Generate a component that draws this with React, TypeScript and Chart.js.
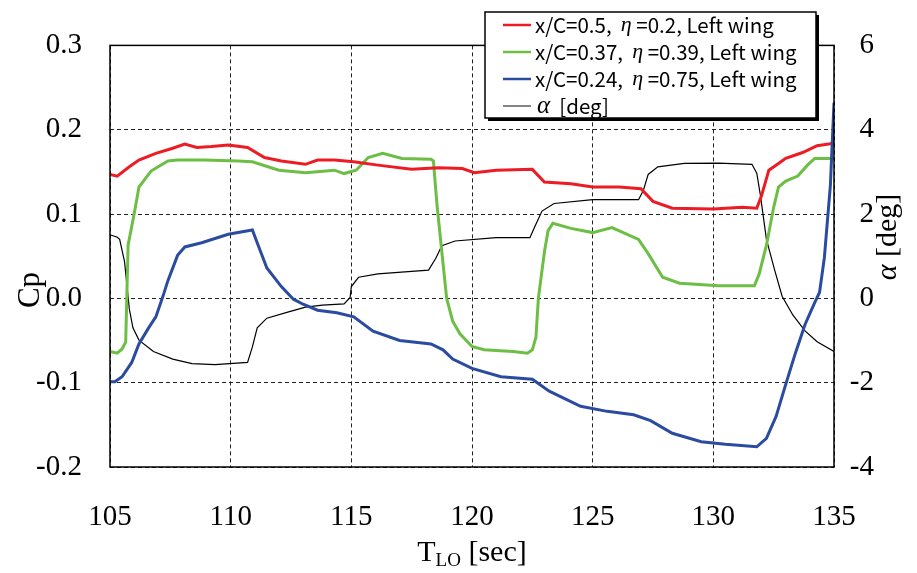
import React, { useEffect, useRef } from 'react';
import { Chart, registerables } from 'chart.js';
Chart.register(...registerables);

const W = 917;
const H = 573;

// Tick label settings (values)
const xMin = 105, xMax = 135, xStep = 5;
const cpMin = -0.2, cpMax = 0.3, cpStep = 0.1;
const aMin = -4, aMax = 6, aStep = 2;

const seriesLabels = [
  'x/C=0.5,',
  'x/C=0.37,',
  'x/C=0.24,',
];
const etaLabels = ['=0.2, Left wing', '=0.39, Left wing', '=0.75, Left wing'];

const redT = [105, 105.3, 105.8, 106.2, 106.9, 107.6, 108.1, 108.6, 109.2, 109.9, 110.7, 111.4, 112.1, 113.1, 113.6, 114.3, 115.1, 116.1, 117.5, 118.6, 119.6, 120.1, 121.0, 122.5, 123.0, 124.1, 125.0, 126.1, 127.0, 127.5, 128.3, 130.0, 131.2, 131.8, 132.0, 132.3, 132.7, 133.0, 133.7, 134.3, 135];
const redCp = [0.147, 0.145, 0.156, 0.164, 0.172, 0.178, 0.183, 0.179, 0.180, 0.182, 0.179, 0.167, 0.163, 0.159, 0.164, 0.164, 0.162, 0.158, 0.153, 0.155, 0.154, 0.149, 0.152, 0.153, 0.138, 0.136, 0.132, 0.132, 0.130, 0.115, 0.107, 0.106, 0.108, 0.107, 0.122, 0.152, 0.160, 0.166, 0.173, 0.181, 0.184];

const greenT = [105, 105.3, 105.5, 105.65, 105.75, 106.0, 106.2, 106.7, 107.4, 107.8, 108.9, 110.3, 110.9, 112.0, 113.1, 114.3, 114.7, 115.2, 115.7, 116.3, 117.1, 118.3, 118.4, 118.55, 118.75, 118.95, 119.2, 119.5, 120.0, 120.5, 121.7, 122.3, 122.5, 122.65, 122.75, 123.0, 123.15, 123.35, 124.1, 125.0, 125.8, 126.9, 127.3, 127.9, 128.6, 129.1, 130.2, 131.7, 131.9, 132.2, 132.5, 132.7, 133.0, 133.5, 133.9, 134.2, 135];
const greenCp = [-0.063, -0.065, -0.060, -0.052, 0.063, 0.100, 0.132, 0.151, 0.163, 0.164, 0.164, 0.163, 0.162, 0.152, 0.149, 0.152, 0.148, 0.152, 0.167, 0.172, 0.166, 0.165, 0.163, 0.111, 0.055, 0.0, -0.027, -0.042, -0.057, -0.061, -0.063, -0.065, -0.061, -0.046, 0.0, 0.055, 0.080, 0.089, 0.083, 0.078, 0.084, 0.070, 0.053, 0.025, 0.018, 0.017, 0.015, 0.015, 0.029, 0.063, 0.108, 0.132, 0.139, 0.145, 0.158, 0.166, 0.166];

const blueT = [105, 105.2, 105.5, 105.9, 106.2, 106.6, 106.9, 107.2, 107.4, 107.8, 108.1, 108.8, 109.9, 110.9, 111.1, 111.5, 112.1, 112.6, 113.0, 113.6, 114.4, 115.1, 115.9, 117.0, 118.3, 118.8, 119.2, 120.0, 121.2, 122.5, 123.2, 124.5, 125.6, 126.7, 127.4, 128.3, 129.5, 130.5, 131.8, 132.2, 132.6, 133.0, 133.4, 133.8, 134.2, 134.4, 134.6, 134.85, 135];
const blueCp = [-0.099, -0.099, -0.093, -0.076, -0.054, -0.035, -0.022, 0.003, 0.021, 0.051, 0.061, 0.066, 0.076, 0.081, 0.066, 0.036, 0.014, -0.001, -0.007, -0.014, -0.017, -0.022, -0.039, -0.050, -0.054, -0.061, -0.072, -0.083, -0.093, -0.096, -0.110, -0.128, -0.134, -0.138, -0.145, -0.160, -0.170, -0.173, -0.176, -0.166, -0.140, -0.102, -0.065, -0.031, -0.005, 0.007, 0.048, 0.134, 0.232];

const alphaT = [105, 105.3, 105.4, 105.6, 105.8, 105.95, 106.2, 106.8, 107.6, 108.4, 109.35, 110.7, 110.9, 111.1, 111.5, 112.4, 113.1, 113.8, 114.7, 114.95, 115.0, 115.3, 116.1, 117.5, 118.2, 118.5, 118.75, 119.3, 121.0, 122.4, 122.6, 122.9, 123.4, 125.0, 126.9, 127.1, 127.3, 127.7, 128.8, 130.2, 131.6, 131.8, 131.95, 132.2, 132.55, 132.85, 133.3, 133.8, 134.3, 135];
const alphaDeg = [1.51, 1.45, 1.40, 0.88, -0.25, -0.70, -0.99, -1.26, -1.44, -1.55, -1.57, -1.52, -1.15, -0.70, -0.47, -0.32, -0.21, -0.16, -0.13, 0.02, 0.28, 0.50, 0.58, 0.64, 0.67, 0.95, 1.25, 1.36, 1.44, 1.44, 1.70, 2.07, 2.25, 2.34, 2.34, 2.56, 2.94, 3.12, 3.20, 3.21, 3.18, 2.97, 2.45, 1.40, 0.65, 0.05, -0.40, -0.77, -1.03, -1.26];

const RED = '#ED1C24';
const GREEN = '#6DBE45';
const BLUE = '#2A4B9F';
const BLACK = '#000000';

const SERIF = '"Liberation Serif", "Times New Roman", serif';
const SANS = '"Noto Sans CJK JP", "Noto Sans", sans-serif';

const toPts = (t: number[], v: number[]) => t.map((x, i) => ({ x, y: v[i] }));

type Part = { t: string; font: string };
function drawParts(ctx: CanvasRenderingContext2D, parts: Part[], x: number, y: number) {
  let cx = x;
  for (const p of parts) {
    ctx.font = p.font;
    ctx.fillText(p.t, cx, y);
    cx += ctx.measureText(p.t).width;
  }
  return cx - x;
}
function partsWidth(ctx: CanvasRenderingContext2D, parts: Part[]) {
  let w = 0;
  for (const p of parts) {
    ctx.font = p.font;
    w += ctx.measureText(p.t).width;
  }
  return w;
}

const decorPlugin = {
  id: 'decor',
  afterDraw(chart: any) {
    const ctx: CanvasRenderingContext2D = chart.ctx;
    const a = chart.chartArea;
    ctx.save();
    // frame
    ctx.strokeStyle = '#000';
    ctx.lineWidth = 1.5;
    ctx.setLineDash([]);
    ctx.strokeRect(a.left, a.top, a.right - a.left, a.bottom - a.top);

    // legend
    const lx = 485, ly = 12, lw = 331, lh = 106;
    ctx.fillStyle = '#000';
    ctx.fillRect(lx + 3, ly + 3, lw, lh);
    ctx.fillStyle = '#fff';
    ctx.fillRect(lx, ly, lw, lh);
    ctx.strokeStyle = '#000';
    ctx.lineWidth = 1.5;
    ctx.strokeRect(lx, ly, lw, lh);
    const colors = [RED, GREEN, BLUE];
    const rowY = [25, 52, 79, 106];
    ctx.textBaseline = 'middle';
    ctx.textAlign = 'left';
    for (let i = 0; i < 3; i++) {
      ctx.strokeStyle = colors[i];
      ctx.lineWidth = 2.5;
      ctx.beginPath();
      ctx.moveTo(503, rowY[i]);
      ctx.lineTo(531, rowY[i]);
      ctx.stroke();
      ctx.fillStyle = '#000';
      drawParts(ctx, [
        { t: seriesLabels[i] + '  ', font: `20.5px ${SANS}` },
        { t: 'η', font: `italic 22px ${SERIF}` },
        { t: ' ' + etaLabels[i], font: `20.5px ${SANS}` },
      ], 535, rowY[i]);
    }
    ctx.strokeStyle = '#333';
    ctx.lineWidth = 1.2;
    ctx.beginPath();
    ctx.moveTo(503, rowY[3]);
    ctx.lineTo(531, rowY[3]);
    ctx.stroke();
    ctx.fillStyle = '#000';
    drawParts(ctx, [
      { t: 'α', font: `italic 25px ${SERIF}` },
      { t: '  [deg]', font: `20.5px ${SANS}` },
    ], 537, rowY[3]);

    // left title "Cp"
    ctx.fillStyle = '#000';
    ctx.save();
    ctx.translate(31, 290);
    ctx.rotate(-Math.PI / 2);
    ctx.font = `31px ${SERIF}`;
    ctx.textAlign = 'center';
    ctx.textBaseline = 'middle';
    ctx.fillText('Cp', 0, 0);
    ctx.restore();

    // right title "α [deg]"
    ctx.save();
    ctx.translate(888, 237);
    ctx.rotate(-Math.PI / 2);
    const rp: Part[] = [
      { t: 'α', font: `italic 30px ${SERIF}` },
      { t: ' [deg]', font: `30px ${SERIF}` },
    ];
    ctx.textAlign = 'left';
    ctx.textBaseline = 'middle';
    const rw = partsWidth(ctx, rp);
    drawParts(ctx, rp, -rw / 2, 0);
    ctx.restore();

    // bottom title T_LO [sec]
    ctx.textAlign = 'left';
    ctx.textBaseline = 'alphabetic';
    const f1 = `30px ${SERIF}`;
    const f2 = `19px ${SERIF}`;
    ctx.font = f1;
    const wT = ctx.measureText('T').width;
    ctx.font = f2;
    const wLO = ctx.measureText('LO').width;
    ctx.font = f1;
    const wSec = ctx.measureText(' [sec]').width;
    const total = wT + wLO + wSec;
    let bx = 472 - total / 2;
    const by = 561;
    ctx.font = f1;
    ctx.fillText('T', bx, by);
    bx += wT;
    ctx.font = f2;
    ctx.fillText('LO', bx, by + 5);
    bx += wLO;
    ctx.font = f1;
    ctx.fillText(' [sec]', bx, by);
    ctx.restore();
  },
};

export default function App() {
  const ref = useRef<HTMLCanvasElement>(null);
  useEffect(() => {
    document.body.style.margin = '0';
    const canvas = ref.current!;
    const chart = new Chart(canvas, {
      type: 'line',
      data: {
        datasets: [
          { label: 'blue', data: toPts(blueT, blueCp), borderColor: BLUE, borderWidth: 3, yAxisID: 'y' },
          { label: 'red', data: toPts(redT, redCp), borderColor: RED, borderWidth: 3, yAxisID: 'y' },
          { label: 'green', data: toPts(greenT, greenCp), borderColor: GREEN, borderWidth: 3, yAxisID: 'y' },
          { label: 'alpha', data: toPts(alphaT, alphaDeg), borderColor: BLACK, borderWidth: 1.2, yAxisID: 'y1' },
        ] as any,
      },
      options: {
        animation: false,
        responsive: false,
        maintainAspectRatio: false,
        events: [],
        layout: { padding: { top: 22, right: 43, left: 0, bottom: 0 } },
        elements: { point: { radius: 0 }, line: { tension: 0, fill: false } },
        plugins: { legend: { display: false }, tooltip: { enabled: false }, title: { display: false } },
        scales: {
          x: {
            type: 'linear',
            min: xMin,
            max: xMax,
            afterFit: (s: any) => { s.height = 106; },
            ticks: { stepSize: xStep, color: '#000', font: { family: SERIF, size: 29 }, padding: 33, maxRotation: 0, autoSkip: false },
            grid: { color: '#222', lineWidth: 1, drawTicks: false },
            border: { display: false, dash: [4, 3] },
          },
          y: {
            type: 'linear',
            position: 'left',
            min: cpMin,
            max: cpMax,
            afterFit: (s: any) => { s.width = 110; },
            ticks: {
              stepSize: cpStep,
              color: '#000',
              font: { family: SERIF, size: 29 },
              padding: 28,
              callback: (v: any) => (Math.abs(v) < 1e-9 ? '0.0' : Number(v).toFixed(1)),
            },
            grid: { color: '#222', lineWidth: 1, drawTicks: false },
            border: { display: false, dash: [4, 3] },
          },
          y1: {
            type: 'linear',
            position: 'right',
            min: aMin,
            max: aMax,
            afterFit: (s: any) => { s.width = 40; },
            ticks: { stepSize: aStep, color: '#000', font: { family: SERIF, size: 29 }, crossAlign: 'far', padding: 0 },
            grid: { display: false, drawTicks: false },
            border: { display: false },
          },
        },
      } as any,
      plugins: [decorPlugin],
    });
    return () => chart.destroy();
  }, []);
  return (
    <div style={{ width: W, height: H, position: 'relative' }}>
      <canvas ref={ref} width={W} height={H} style={{ display: 'block' }} />
    </div>
  );
}
